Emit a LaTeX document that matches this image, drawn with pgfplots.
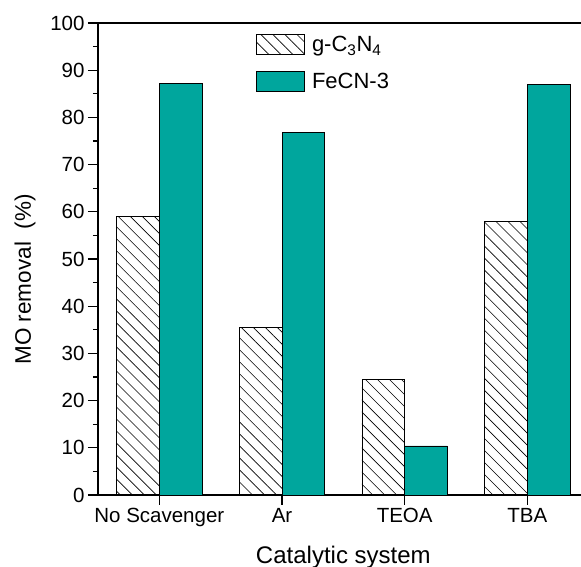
\documentclass[border=0pt]{standalone}
\usepackage{pgfplots}
\pgfplotsset{compat=1.18}
\usepackage{fontspec}
\setmainfont{Liberation Sans}
\usetikzlibrary{patterns.meta}
\definecolor{teal1}{RGB}{0,166,157}
\begin{document}
\begin{tikzpicture}
\begin{axis}[
 at={(0,0)}, anchor=south west,
 scale only axis, width=490.7pt, height=472pt,
 xmin=-0.5, xmax=3.5, ymin=0, ymax=100,
 ybar=0pt, bar width=42.7pt,
 xtick={0,1,2,3}, xticklabels={No Scavenger,Ar,TEOA,TBA},
 ytick={0,10,...,100}, minor y tick num=1,
 tick align=outside, xtick pos=bottom, ytick pos=left,
 major tick length=10pt, minor tick length=5pt,
 axis line style={line width=1.3pt},
 tick style={line width=1.3pt, black},
 ticklabel style={font=\fontsize{20.5}{24}\selectfont},
 /pgf/number format/assume math mode=true,
 xlabel={Catalytic system}, ylabel={MO removal\ \ (\%)},
 every axis x label/.style={at={(axis description cs:0.5,-0.1314)}, anchor=center,
   font=\fontsize{24}{28}\selectfont},
 every axis y label/.style={at={(axis description cs:-0.1488,0.4566)}, rotate=90, anchor=center,
   font=\fontsize{22.5}{26}\selectfont},
 legend style={at={(0.322,0.9767)}, anchor=north west, draw=none, fill=none, inner sep=0pt,
   font=\fontsize{22}{26}\selectfont, row sep=16pt, nodes={inner xsep=7pt}},
 legend image code/.code={\draw[#1] (0pt,-10pt) rectangle (48pt,10pt);},
 legend cell align=left,
]
\addplot[draw=black, line width=0.8pt, pattern={Lines[angle=-45,distance=8.5pt,line width=0.6pt]}]
 coordinates {(0,59.0) (1,35.5) (2,24.5) (3,57.9)};
\addlegendentry{g-C\textsubscript{3}N\textsubscript{4}}
\addplot[draw=black, line width=0.8pt, fill=teal1]
 coordinates {(0,87.1) (1,76.8) (2,10.4) (3,86.9)};
\addlegendentry{FeCN-3}
\end{axis}
\pgfresetboundingbox
\useasboundingbox (-98pt,-72pt) rectangle (483pt,495pt);
\end{tikzpicture}
\end{document}
